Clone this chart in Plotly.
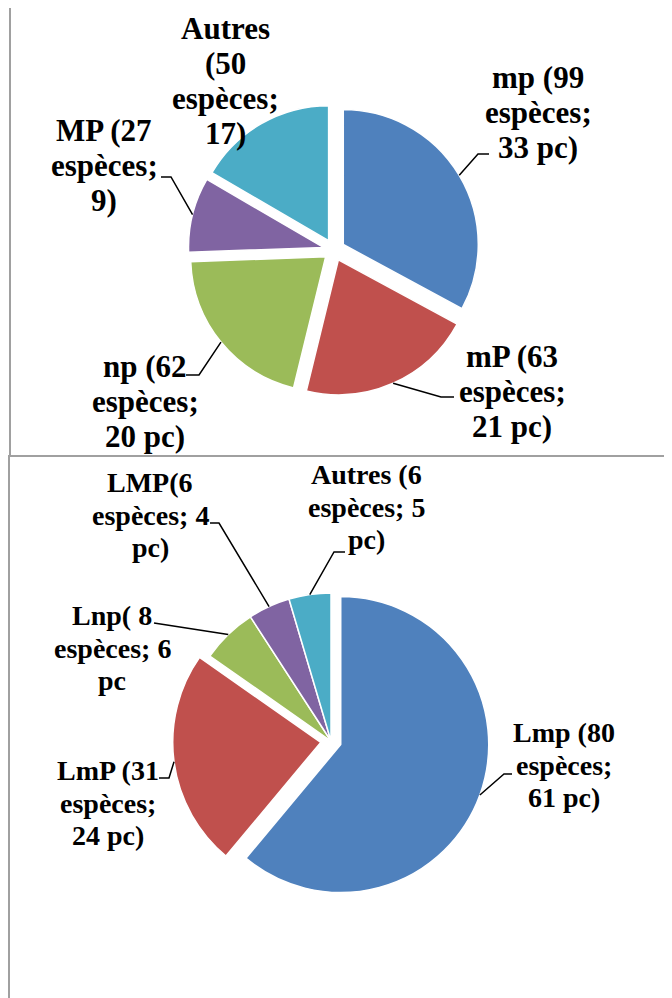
import math
import plotly.graph_objects as go

# ---------------- data ----------------
top_categories = ["mp", "mP", "np", "MP", "Autres"]
top_species = [99, 63, 62, 27, 50]
top_labels = [
    "mp (99<br>espèces;<br>33 pc)",
    "mP (63<br>espèces;<br>21 pc)",
    "np (62<br>espèces;<br>20 pc)",
    "MP (27<br>espèces;<br>9)",
    "Autres<br>(50<br>espèces;<br>17)",
]

bot_categories = ["Lmp", "LmP", "Lnp", "LMP", "Autres"]
bot_species = [80, 31, 8, 6, 6]
bot_labels = [
    "Lmp (80<br>espèces;<br>61 pc)",
    "LmP (31<br>espèces;<br>24 pc)",
    "Lnp( 8<br>espèces; 6<br>pc",
    "LMP(6<br>espèces; 4<br>pc)",
    "Autres (6<br>espèces; 5<br>pc)",
]

colors = ["#4F81BD", "#C0504D", "#9BBB59", "#8064A2", "#4BACC6"]

# ---------------- layout constants (pixels of the 672x998 window) ----------------
OFF = 8                      # default page body margin
W, H = 672 - OFF, 998 - OFF  # figure size
FONT = "Liberation Serif"

top_geo = dict(cx=334, cy=250, r=135, pulls=[0.08, 0.08, 0.08, 0.08, 0.08],
               fs=31, lh=35)
bot_geo = dict(cx=331, cy=741, r=148, pulls=[0.07, 0.07, 0, 0, 0],
               fs=28, lh=32.5)

# label centre x, first baseline y, leader elbow, leader end (None = no leader)
top_lab_pos = [
    dict(x=538, b=88, elbow=(478, 154), end=(489, 154)),
    dict(x=512, b=367, elbow=(441, 397), end=(454, 397)),
    dict(x=145, b=377, elbow=(199, 375), end=(186, 375)),
    dict(x=104, b=141, elbow=(171, 177), end=(161, 177)),
    dict(x=225, b=39, elbow=None, end=None),
]
bot_lab_pos = [
    dict(x=564, b=742, elbow=(504, 774), end=(512, 774)),
    dict(x=108, b=780, elbow=(169, 778), end=(159, 778)),
    dict(x=112, b=625, elbow=(154, 623), end=(154, 623)),
    dict(x=150, b=492, elbow=(219, 523), end=(210, 523)),
    dict(x=366, b=484, elbow=(334, 552), end=(345, 552)),
]


def px(x):
    return (x - OFF) / W


def py(y):
    return 1 - (y - OFF) / H


fig = go.Figure()
shapes = []


def add_pie(values, cats, geo, labels, labpos):
    mp = max(geo["pulls"])
    half = geo["r"] * (1 + mp)
    fig.add_trace(go.Pie(
        values=values, labels=cats, sort=False, direction="clockwise",
        rotation=0, pull=geo["pulls"], textinfo="none",
        marker=dict(colors=colors, line=dict(color="white", width=1.5)),
        domain=dict(x=[px(geo["cx"] - half), px(geo["cx"] + half)],
                    y=[py(geo["cy"] + half), py(geo["cy"] - half)]),
        showlegend=False,
    ))
    total = sum(values)
    cum = 0
    for v, p, lab, pos in zip(values, geo["pulls"], labels, labpos):
        th = 2 * math.pi * (cum + v / 2) / total
        cum += v
        rr = geo["r"] * (1 + p)
        ax = geo["cx"] + rr * math.sin(th)
        ay = geo["cy"] - rr * math.cos(th)
        if pos["elbow"] is not None:
            ex, ey = pos["elbow"]
            nx, ny = pos["end"]
            path = f"M {px(ax)} {py(ay)} L {px(ex)} {py(ey)} L {px(nx)} {py(ny)}"
            shapes.append(dict(type="path", xref="paper", yref="paper", path=path,
                               line=dict(color="black", width=1.5)))
        for i, line in enumerate(lab.split("<br>")):
            base = pos["b"] + i * geo["lh"]
            fig.add_annotation(
                x=px(pos["x"]), y=py(base - 0.33 * geo["fs"]),
                xref="paper", yref="paper",
                text=f"<b>{line}</b>", showarrow=False,
                xanchor="center", yanchor="middle",
                font=dict(family=FONT, size=geo["fs"], color="black"),
            )


add_pie(top_species, top_categories, top_geo, top_labels, top_lab_pos)
add_pie(bot_species, bot_categories, bot_geo, bot_labels, bot_lab_pos)

# frames
frame = dict(color="#A0A0A0", width=2)
shapes.append(dict(type="path", xref="paper", yref="paper",
                   path=f"M {px(690)} {py(7)} L {px(10)} {py(7)} L {px(10)} {py(456)}",
                   line=frame))
shapes.append(dict(type="path", xref="paper", yref="paper",
                   path=f"M {px(690)} {py(456)} L {px(9)} {py(456)} L {px(9)} {py(1010)}",
                   line=frame))

fig.update_layout(
    width=W, height=H, margin=dict(l=0, r=0, t=0, b=0),
    paper_bgcolor="white", plot_bgcolor="white",
    font=dict(family=FONT, color="black"),
    shapes=shapes,
)

fig.write_html("out.html")
